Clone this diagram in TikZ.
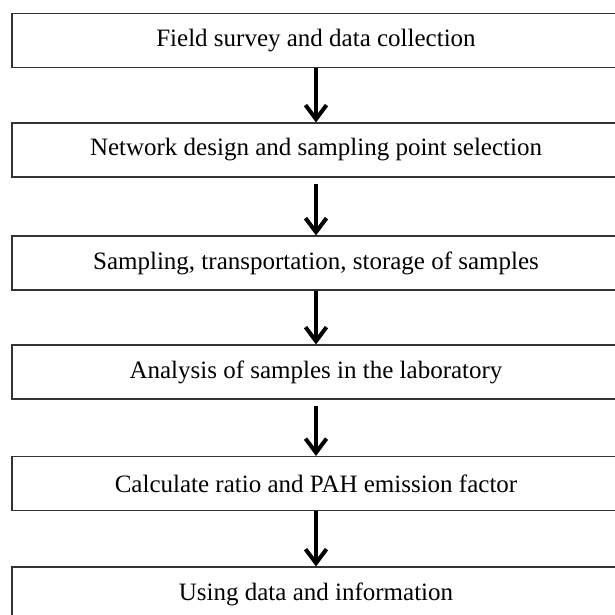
\documentclass[tikz,border=0pt]{standalone}
\usepackage{fontspec}
\setmainfont{Liberation Serif}
\usetikzlibrary{arrows.meta}
\begin{document}
\begin{tikzpicture}[x=1pt,y=-1pt,
  stepbox/.style={draw=black!80, line width=1.1pt, rectangle, inner sep=0pt,
    minimum width=608pt, minimum height=54pt, font=\fontsize{25}{28}\selectfont},
  flow/.style={line width=4pt, -{Straight Barb[length=14pt,width=21pt]}}]
  \useasboundingbox (0,0) rectangle (614,615);
  \node[stepbox] (s1) at (316,40.5) {Field survey and data collection};
  \node[stepbox] (s2) at (316,150) {Network design and sampling point selection};
  \node[stepbox] (s3) at (316,263) {Sampling, transportation, storage of samples};
  \node[stepbox] (s4) at (316,372) {Analysis of samples in the laboratory};
  \node[stepbox] (s5) at (316,483.5) {Calculate ratio and PAH emission factor};
  \node[stepbox] (s6) at (316,594) {Using data and information};
  \draw[flow] (s1.south) -- (s2.north);
  \draw[flow, shorten <=6pt] (s2.south) -- (s3.north);
  \draw[flow] (s3.south) -- (s4.north);
  \draw[flow, shorten <=6pt] (s4.south) -- (s5.north);
  \draw[flow] (s5.south) -- (s6.north);
\end{tikzpicture}
\end{document}
